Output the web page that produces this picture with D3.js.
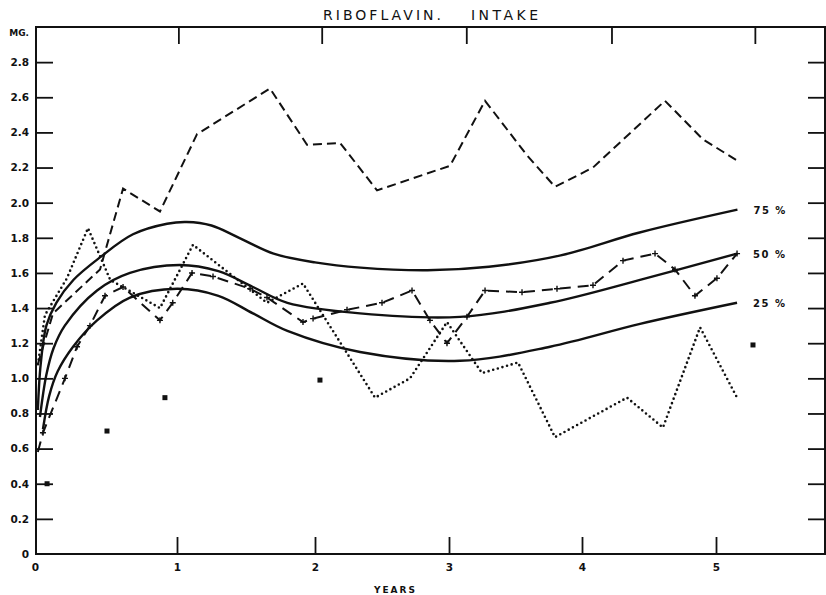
<!DOCTYPE html>
<html>
<head>
<meta charset="utf-8">
<script src="https://cdn.jsdelivr.net/npm/d3@7"></script>
<style>
body { margin: 0; background: #fff; }
svg { display: block; }
text { font-family: "DejaVu Sans", sans-serif; fill: #111; }
</style>
</head>
<body>
<div class="chart"></div>
<script>
// age in years, riboflavin in mg
var yearTicks = [0, 1, 2, 3, 4, 5],
    topTicks = [1.01, 2.05, 3.13, 4.22, 5.29],
    mgTicks = [0, 0.2, 0.4, 0.6, 0.8, 1.0, 1.2, 1.4, 1.6, 1.8, 2.0, 2.2, 2.4, 2.6, 2.8, 3.0],
    mgLabels = ["0", "0.2", "0.4", "0.6", "0.8", "1.0", "1.2", "1.4", "1.6", "1.8", "2.0", "2.2", "2.4", "2.6", "2.8", "MG."],
    rightTicks = [0.2, 0.4, 0.6, 0.8, 1.0, 1.2, 1.4, 1.6, 1.8, 2.0, 2.2, 2.4, 2.6, 2.8];

// percentile curves
var p75 = [[0.02, 0.82], [0.04, 1.08], [0.08, 1.3], [0.15, 1.43], [0.27, 1.56], [0.46, 1.69], [0.69, 1.82],
           [0.93, 1.88], [1.07, 1.89], [1.25, 1.87], [1.45, 1.80], [1.7, 1.71], [2.0, 1.66], [2.34, 1.63], [2.84, 1.615],
           [3.3, 1.635], [3.84, 1.70], [4.43, 1.83], [5.16, 1.96]];
var p50 = [[0.035, 0.78], [0.08, 1.02], [0.13, 1.17], [0.21, 1.30], [0.437, 1.50], [0.669, 1.60], [1.02, 1.645],
           [1.3, 1.61], [1.55, 1.52], [1.8, 1.43], [2.336, 1.37], [3.083, 1.35], [3.76, 1.43], [4.433, 1.56], [5.157, 1.71]];
var p25 = [[0.056, 0.71], [0.1, 0.9], [0.16, 1.04], [0.268, 1.18], [0.437, 1.33], [0.669, 1.46], [1.0, 1.51],
           [1.3, 1.47], [1.55, 1.37], [1.8, 1.27], [2.336, 1.15], [3.083, 1.10], [3.76, 1.18], [4.433, 1.31], [5.157, 1.43]];

// individual records
var dashed = [[0.02, 1.08], [0.127, 1.37], [0.458, 1.62], [0.62, 2.08], [0.88, 1.95], [1.145, 2.39],
              [1.674, 2.65], [1.942, 2.33], [2.187, 2.34], [2.463, 2.07], [3.008, 2.21], [3.271, 2.58],
              [3.586, 2.27], [3.797, 2.09], [4.082, 2.20], [4.619, 2.58], [4.903, 2.36], [5.157, 2.24]];
var dotted = [[0.021, 1.08], [0.07, 1.36], [0.225, 1.57], [0.373, 1.855], [0.53, 1.56], [0.88, 1.40],
              [1.116, 1.76], [1.652, 1.43], [1.913, 1.54], [2.448, 0.89], [2.709, 1.00], [2.985, 1.32],
              [3.248, 1.03], [3.519, 1.09], [3.797, 0.665], [4.336, 0.89], [4.604, 0.72], [4.881, 1.29], [5.157, 0.89]];
var dashDot = [[0.02, 0.58], [0.056, 0.69], [0.211, 1.00], [0.296, 1.18], [0.387, 1.30], [0.493, 1.47],
               [0.62, 1.52], [0.88, 1.33], [0.97, 1.43], [1.109, 1.60], [1.261, 1.58], [1.53, 1.51],
               [1.652, 1.46], [1.913, 1.32], [1.986, 1.34], [2.239, 1.39], [2.5, 1.43], [2.724, 1.50],
               [2.858, 1.33], [2.985, 1.20], [3.135, 1.35], [3.271, 1.50], [3.549, 1.49], [3.812, 1.51],
               [4.082, 1.53], [4.306, 1.67], [4.545, 1.71], [4.694, 1.62], [4.843, 1.47], [5.007, 1.57], [5.157, 1.71]];
var squares = [[0.085, 0.40], [0.507, 0.70], [0.915, 0.89], [2.037, 0.99], [5.276, 1.19]];

var width = 826, height = 595;

// the scanned year axis is not quite even, so the scale follows its ticks
var x = d3.scaleLinear()
    .domain(yearTicks)
    .range([35, 177, 315, 449, 582, 716]);
var y = d3.scaleLinear()
    .domain([0, 3])
    .range([554, 27]);

var plotLeft = 36, plotRight = 825, plotTop = y(3), plotBottom = y(0);

var svg = d3.select(".chart").append("svg")
    .attr("width", width)
    .attr("height", height);

// frame
svg.append("path")
    .attr("d", "M" + plotLeft + "," + plotTop + "H" + (width + 2) +
          "M" + plotLeft + "," + (plotTop - 1) + "V" + (plotBottom + 1) +
          "M" + (plotLeft - 1) + "," + plotBottom + "H" + (width + 2) +
          "M" + plotRight + "," + plotTop + "V" + plotBottom)
    .attr("fill", "none")
    .attr("stroke", "#111")
    .attr("stroke-width", 2);

function styleAxis(g) {
    g.select(".domain").remove();
    g.selectAll(".tick line").attr("stroke", "#111").attr("stroke-width", 1.8);
    g.selectAll(".tick text")
        .attr("fill", "#111")
        .style("font-family", "'DejaVu Sans', sans-serif")
        .style("font-weight", "bold")
        .style("font-size", "10.5px");
}

svg.append("g")
    .attr("transform", "translate(" + plotLeft + ",0)")
    .call(d3.axisLeft(y).tickValues(mgTicks).tickSize(-17).tickPadding(7)
        .tickFormat(function (d, i) { return mgLabels[i]; }))
    .call(styleAxis)
    .call(function (g) {
        g.selectAll(".tick").filter(function (d) { return d === 0 || d === 3; }).select("line").remove();
        g.selectAll(".tick").filter(function (d) { return d === 3; }).select("text")
            .style("font-size", "9px").attr("dy", "0.9em");
    });

svg.append("g")
    .attr("transform", "translate(" + plotRight + ",0)")
    .call(d3.axisRight(y).tickValues(rightTicks).tickSize(-17).tickFormat(""))
    .call(styleAxis);

svg.append("g")
    .attr("transform", "translate(0," + plotBottom + ")")
    .call(d3.axisBottom(x).tickValues(yearTicks).tickSize(-17).tickPadding(10).tickFormat(d3.format("d")))
    .call(styleAxis)
    .call(function (g) {
        g.selectAll(".tick").filter(function (d) { return d === 0; }).select("line").remove();
    });

svg.append("g")
    .attr("transform", "translate(0," + plotTop + ")")
    .call(d3.axisTop(x).tickValues(topTicks).tickSize(-17).tickFormat(""))
    .call(styleAxis);

// titles
svg.append("text")
    .attr("x", 323).attr("y", 20)
    .attr("textLength", 118).attr("lengthAdjust", "spacing")
    .style("font-size", "14px")
    .text("RIBOFLAVIN.");
svg.append("text")
    .attr("x", 471).attr("y", 20)
    .attr("textLength", 67).attr("lengthAdjust", "spacing")
    .style("font-size", "14px")
    .text("INTAKE");
svg.append("text")
    .attr("x", x(2.6)).attr("y", 593)
    .attr("text-anchor", "middle")
    .style("font-size", "9px").style("font-weight", "bold").style("letter-spacing", "2px")
    .text("YEARS");

var line = d3.line()
    .x(function (d) { return x(d[0]); })
    .y(function (d) { return y(d[1]); });
var smooth = d3.line()
    .curve(d3.curveCatmullRom.alpha(0.5))
    .x(function (d) { return x(d[0]); })
    .y(function (d) { return y(d[1]); });

var curves = [
    { name: "75 %", data: p75 },
    { name: "50 %", data: p50 },
    { name: "25 %", data: p25 }
];

svg.selectAll(".pct")
    .data(curves)
    .enter().append("path")
    .attr("class", "pct")
    .attr("d", function (d) { return smooth(d.data); })
    .attr("fill", "none")
    .attr("stroke", "#111")
    .attr("stroke-width", 2.4);

svg.selectAll(".pctlabel")
    .data(curves)
    .enter().append("text")
    .attr("class", "pctlabel")
    .attr("x", function (d) { return x(d.data[d.data.length - 1][0]) + 16; })
    .attr("y", function (d) { return y(d.data[d.data.length - 1][1]) + 4; })
    .style("font-size", "10px").style("font-weight", "bold").style("letter-spacing", "1.5px")
    .text(function (d) { return d.name; });

svg.append("path")
    .attr("d", line(dashed))
    .attr("fill", "none")
    .attr("stroke", "#111")
    .attr("stroke-width", 2)
    .attr("stroke-dasharray", "9,5");

svg.append("path")
    .attr("d", line(dotted))
    .attr("fill", "none")
    .attr("stroke", "#111")
    .attr("stroke-width", 2.6)
    .attr("stroke-linecap", "round")
    .attr("stroke-dasharray", "0,4.8");

svg.append("path")
    .attr("d", line(dashDot))
    .attr("fill", "none")
    .attr("stroke", "#111")
    .attr("stroke-width", 2)
    .attr("stroke-dasharray", "11,7");

svg.selectAll(".plus")
    .data(dashDot.slice(1))
    .enter().append("path")
    .attr("class", "plus")
    .attr("transform", function (d) { return "translate(" + x(d[0]) + "," + y(d[1]) + ")"; })
    .attr("d", "M-3,0H3M0,-3V3")
    .attr("stroke", "#111")
    .attr("stroke-width", 1.4);

svg.selectAll(".sq")
    .data(squares)
    .enter().append("rect")
    .attr("class", "sq")
    .attr("x", function (d) { return x(d[0]) - 2.5; })
    .attr("y", function (d) { return y(d[1]) - 2.5; })
    .attr("width", 5)
    .attr("height", 5)
    .attr("fill", "#111");
</script>
</body>
</html>
